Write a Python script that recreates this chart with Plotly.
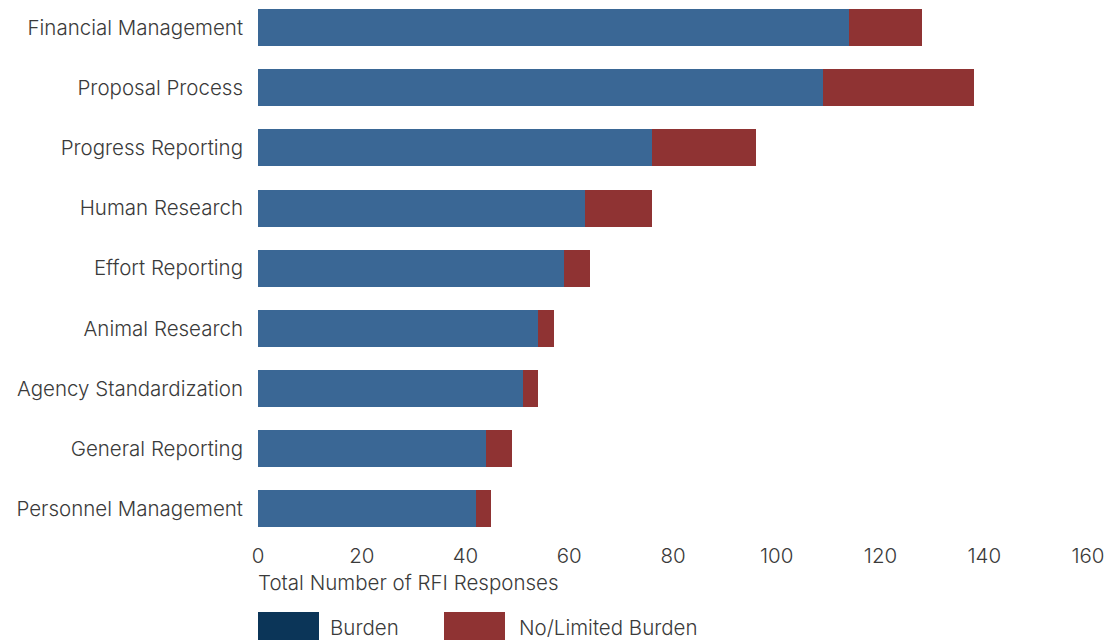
import plotly.graph_objects as go

categories = ["Financial Management", "Proposal Process", "Progress Reporting",
              "Human Research", "Effort Reporting", "Animal Research",
              "Agency Standardization", "General Reporting", "Personnel Management"]
burden = [114, 109, 76, 63, 59, 54, 51, 44, 42]
no_limited = [14, 29, 20, 13, 5, 3, 3, 5, 3]
x_ticks = [0, 20, 40, 60, 80, 100, 120, 140, 160]
series_names = ["Burden", "No/Limited Burden"]

BLUE = "#3A6795"
NAVY = "#0B3558"
RED = "#8F3333"
TXT = "#3a3a3a"
FONT = "Inter"
FS = 20.5

fig = go.Figure()
fig.add_trace(go.Bar(y=categories, x=burden, orientation="h", name=series_names[0],
                     marker=dict(color=BLUE, line=dict(width=0)), showlegend=False))
fig.add_trace(go.Bar(y=categories, x=no_limited, orientation="h", name=series_names[1],
                     marker=dict(color=RED, line=dict(width=0)), showlegend=False))

W, H = 1109, 640
ml, mr, mt, mb = 258, 21, 0, 101
ph = H - mt - mb

def py(pix):
    return (ph - pix) / ph

def px(pix):
    return (pix - ml) / (W - ml - mr)

shapes = []
annotations = []
legend_items = [(series_names[0], NAVY, 258, 328), (series_names[1], RED, 444, 517)]
for name, col, sx, tx in legend_items:
    shapes.append(dict(type="rect", xref="paper", yref="paper",
                       x0=px(sx), x1=px(sx + 61), y0=py(612), y1=py(646),
                       fillcolor=col, line=dict(width=0), layer="above"))
    annotations.append(dict(text=name, xref="paper", yref="paper", x=px(tx), y=py(627),
                            xanchor="left", yanchor="middle", showarrow=False,
                            font=dict(family=FONT, size=FS, color=TXT, weight=300)))

annotations.append(dict(text="Total Number of RFI Responses", xref="paper", yref="paper",
                        x=px(256), y=py(582), xanchor="left", yanchor="middle",
                        showarrow=False, font=dict(family=FONT, size=FS, color=TXT, weight=300)))

fig.update_layout(
    width=W, height=H, barmode="stack", bargap=0.385,
    margin=dict(l=ml, r=mr, t=mt, b=mb, pad=0),
    paper_bgcolor="white", plot_bgcolor="white",
    font=dict(family=FONT, size=FS, color=TXT, weight=300),
    shapes=shapes, annotations=annotations,
    xaxis=dict(range=[0, 160], tickvals=x_ticks, showgrid=False, zeroline=False,
               showline=False, ticks="", ticklabelstandoff=2,
               tickfont=dict(family=FONT, size=FS, color=TXT, weight=300)),
    yaxis=dict(categoryorder="array", categoryarray=categories, range=[8.5, -0.457],
               showgrid=False, zeroline=False, showline=False, ticks="",
               ticklabelstandoff=14,
               tickfont=dict(family=FONT, size=FS, color=TXT, weight=300)),
)

fig.write_html("out.html")
